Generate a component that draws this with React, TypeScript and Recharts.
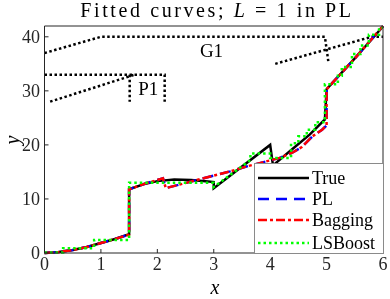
import React from "react";
import { LineChart, Line, XAxis, YAxis, ReferenceDot } from "recharts";

type Pt = { x: number; y: number };
const pts = (a: number[][]): Pt[] => a.map(([x, y]) => ({ x, y }));

const xTicks = [0, 1, 2, 3, 4, 5, 6];
const yTicks = [0, 10, 20, 30, 40];

// true function
const trueCurve = pts([
  [0, 0], [0.25, 0.2], [0.5, 0.55], [0.75, 1.1], [1, 1.85], [1.25, 2.6], [1.5, 3.5],
  [1.5, 11.8], [1.75, 12.7], [2, 13.3], [2.3, 13.6], [2.6, 13.5], [2.9, 13.25], [3, 13.1],
  [3, 12], [4, 20], [4.05, 16.2], [4.4, 19.3], [4.7, 21.9], [4.97, 24.7],
  [5, 30.3], [5.5, 36], [6, 41.9],
]);

// bagging fit
const baggingCurve = pts([
  [0, 0], [0.25, 0.15], [0.5, 0.55], [0.75, 1.1], [1, 1.85], [1.25, 2.6], [1.5, 3.4],
  [1.5, 11.8], [1.8, 12.9], [2.1, 13.8], [2.15, 12], [3.29, 15.1], [3.58, 16], [4.17, 17.6],
  [4.4, 18.6], [4.56, 19.6], [4.75, 21.6], [4.92, 22.8], [5, 23.6],
  [5, 30.3], [5.5, 36], [6, 42],
]);

// PL fit sits underneath bagging
const plCurve = baggingCurve;

// LSBoost fit (steps)
const lsboostCurve = pts([
  [0, 0.1], [0.33, 0.1], [0.33, 0.9], [0.88, 0.9], [0.88, 2.4], [1.5, 2.4],
  [1.5, 13.0], [3.0, 13.0], [3.0, 12.2], [3.65, 17.2], [3.65, 18.4], [4.0, 18.4],
  [4.0, 17.6], [4.37, 17.6], [4.37, 20.3], [4.5, 20.3], [4.5, 21.6], [4.65, 21.6],
  [4.65, 22.8], [4.8, 22.8], [4.8, 24.2], [4.97, 24.2], [4.97, 31.2], [5.2, 31.2],
  [5.2, 32.8], [5.27, 32.8], [5.27, 34.4], [5.45, 34.4], [5.45, 36.8], [5.6, 36.8],
  [5.6, 38.4], [5.75, 38.4], [5.75, 40.4], [5.93, 40.4], [5.93, 41.7], [6, 41.7],
]);

// tree connectors
const g1Left = pts([[0, 37], [1, 40], [4.97, 40], [5.03, 35.5]]);
const g1Right = pts([[4.09, 35], [5.8, 40], [6, 40]]);
const p1Box = pts([[0, 33], [2.13, 33], [2.13, 28]]);
const p1Stem = pts([[1.51, 33], [1.51, 28]]);
const p1Diag = pts([[0.1, 28], [1.6, 33]]);
const connectors = [g1Left, g1Right, p1Box, p1Stem, p1Diag];

const nodeNames = ["G1", "P1"];
const nodeX = [2.96, 1.84];
const nodeY = [37.6, 30.5];

const series = [
  { name: "True", data: trueCurve, color: "#000000", dash: undefined as string | undefined, width: 2.5 },
  { name: "PL", data: plCurve, color: "#0000ff", dash: "11 7", width: 2.5 },
  { name: "Bagging", data: baggingCurve, color: "#ff0000", dash: "9 3 3 3", width: 2.5 },
  { name: "LSBoost", data: lsboostCurve, color: "#00ff00", dash: "2.5 3", width: 2.5 },
];

const font = "'Liberation Serif', 'Times New Roman', serif";
const axisColor = "#262626";

function LegendBox() {
  const rowTops = [13.7, 34.7, 56, 79.3];
  return (
    <div
      style={{
        position: "absolute",
        left: 254,
        top: 163,
        width: 128,
        height: 89,
        background: "#fff",
        border: "1px solid #8a8a8a",
      }}
    >
      {series.map((s, i) => (
        <div
          key={s.name}
          style={{
            position: "absolute",
            left: 3,
            top: rowTops[i] - 11,
            height: 22,
            display: "flex",
            alignItems: "center",
          }}
        >
          <svg width={51} height={6}>
            <line
              x1={0}
              y1={3}
              x2={51}
              y2={3}
              stroke={s.color}
              strokeWidth={s.width}
              strokeDasharray={s.dash}
            />
          </svg>
          <span style={{ marginLeft: 3, fontSize: 18, lineHeight: "18px", color: "#000" }}>
            {s.name}
          </span>
        </div>
      ))}
    </div>
  );
}

export default function App() {
  return (
    <div
      style={{
        position: "fixed",
        left: 0,
        top: 0,
        width: 390,
        height: 299,
        background: "#fff",
        fontFamily: font,
      }}
    >
      <div
        style={{
          position: "absolute",
          left: 0,
          top: 0,
          width: 434,
          textAlign: "center",
          fontSize: 20,
          lineHeight: "20px",
          letterSpacing: 2.6,
          color: "#000",
        }}
      >
        Fitted curves; <i>L</i> = 1 in PL
      </div>
      <LineChart width={390} height={299} margin={{ top: 25, right: 6, bottom: 0, left: 0 }}>
        <XAxis
          dataKey="x"
          type="number"
          domain={[0, 6]}
          ticks={xTicks}
          allowDuplicatedCategory={false}
          height={46}
          tickSize={-4}
          tickMargin={8}
          stroke={axisColor}
          tick={{ fill: axisColor, fontSize: 18, fontFamily: font }}
        />
        <XAxis
          xAxisId="top"
          orientation="top"
          type="number"
          domain={[0, 6]}
          ticks={xTicks}
          height={1}
          tickSize={-4}
          tick={false}
          stroke={axisColor}
        />
        <YAxis
          type="number"
          domain={[0, 42]}
          ticks={yTicks}
          width={44.5}
          tickSize={-4}
          tickMargin={8.5}
          stroke={axisColor}
          tick={{ fill: axisColor, fontSize: 18, fontFamily: font }}
        />
        <YAxis
          yAxisId="right"
          orientation="right"
          type="number"
          domain={[0, 42]}
          ticks={yTicks}
          width={1}
          tickSize={-4}
          tick={false}
          stroke={axisColor}
        />
        {connectors.map((c, i) => (
          <Line
            key={`c${i}`}
            data={c}
            dataKey="y"
            type="linear"
            stroke="#000"
            strokeWidth={2.5}
            strokeDasharray="2.5 2.5"
            dot={false}
            activeDot={false}
            isAnimationActive={false}
          />
        ))}
        {series.map((s) => (
          <Line
            key={s.name}
            data={s.data}
            dataKey="y"
            name={s.name}
            type="linear"
            stroke={s.color}
            strokeWidth={s.width}
            strokeDasharray={s.dash}
            dot={false}
            activeDot={false}
            isAnimationActive={false}
          />
        ))}
        {nodeNames.map((n, i) => (
          <ReferenceDot
            key={n}
            x={nodeX[i]}
            y={nodeY[i]}
            r={0}
            fill="none"
            stroke="none"
            label={{ value: n, position: "center", fontSize: 19, fill: "#000", fontFamily: font }}
          />
        ))}
      </LineChart>
      <LegendBox />
      <div
        style={{
          position: "absolute",
          left: 195,
          top: 277.3,
          width: 40,
          height: 20,
          textAlign: "center",
          fontSize: 20,
          lineHeight: "20px",
          fontStyle: "italic",
        }}
      >
        x
      </div>
      <div
        style={{
          position: "absolute",
          left: -8.5,
          top: 130,
          width: 40,
          height: 20,
          textAlign: "center",
          fontSize: 20,
          lineHeight: "20px",
          fontStyle: "italic",
          transform: "rotate(-90deg)",
        }}
      >
        y
      </div>
    </div>
  );
}
